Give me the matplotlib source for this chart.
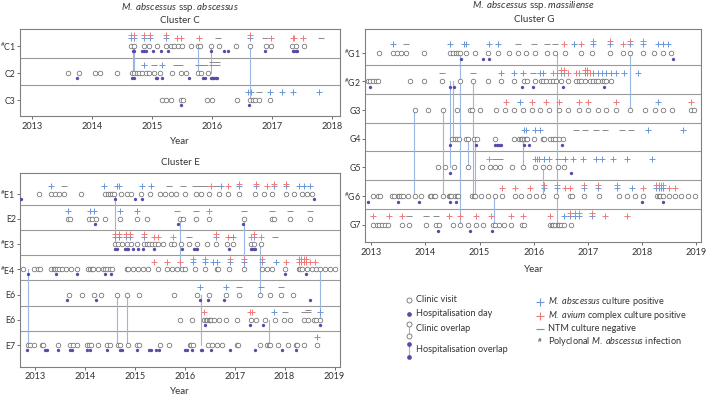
import matplotlib
matplotlib.use("Agg")
import matplotlib.pyplot as plt
from collections import Counter

plt.rcParams["font.family"] = ["Lato", "DejaVu Sans"]
plt.rcParams["mathtext.fontset"] = "custom"
plt.rcParams["mathtext.rm"] = "Lato"
plt.rcParams["mathtext.it"] = "Lato:italic"

PURPLE = "#5a4aa8"
BLUE = "#6b97d8"
RED = "#f07a7a"
GREY = "#707070"
NEG = "#8a8a8a"
LINK = "#9ab6e2"
EDGE = "#808080"

# ---- Cluster C (M. abscessus ssp. abscessus) ----
c_labels = [r"$^{\#}$C1", "C2", "C3"]
c_clinic = [
    [2014.65, 2014.71, 2014.87, 2014.95, 2015.08, 2015.23, 2015.31, 2015.37, 2015.44, 2015.50,
     2015.65, 2015.76, 2015.80, 2015.99, 2016.12, 2016.40, 2016.63, 2016.90, 2016.98, 2017.33,
     2017.39, 2017.53],
    [2013.61, 2013.79, 2014.05, 2014.13, 2014.42, 2014.67, 2014.70, 2014.76, 2014.79, 2014.84,
     2014.91, 2014.95, 2015.03, 2015.13, 2015.34, 2015.49, 2015.56, 2015.76, 2015.82, 2015.93],
    [2015.16, 2015.24, 2015.32, 2015.48, 2015.51, 2015.92, 2016.00, 2016.41, 2016.63, 2016.68,
     2016.71, 2016.79, 2016.97],
]
c_hosp = [
    [2014.68, 2014.71, 2014.84, 2014.87, 2014.90, 2015.01, 2015.15, 2015.26, 2015.99, 2016.20,
     2016.27, 2016.89, 2017.34, 2017.36, 2017.39, 2017.41],
    [2013.76, 2014.67, 2014.70, 2015.06, 2015.08, 2015.16, 2015.61, 2015.85, 2015.88, 2015.98,
     2016.00, 2016.02, 2016.04, 2016.07, 2016.09],
    [2015.49, 2016.62],
]
c_abs = [
    [2014.65, 2014.71, 2014.87, 2014.97, 2015.23, 2016.64],
    [2014.87, 2015.16],
    [2016.60, 2016.65, 2016.97, 2017.17, 2017.35, 2017.78],
]
c_mac = [
    [2014.65, 2014.71, 2014.87, 2014.97, 2015.23, 2015.41, 2015.49, 2015.79, 2016.64, 2016.98,
     2017.34, 2017.37, 2017.52],
    [],
    [],
]
c_neg = [
    [2016.10, 2016.89, 2017.81],
    [2015.04, 2015.40, 2015.46, 2015.77, 2015.83, 2015.88, 2016.00, 2016.00, 2016.08, 2016.08],
    [2016.79],
]
c_links = [(2014.68, 0, 1), (2014.71, 0, 1), (2015.77, 0, 1), (2015.99, 0, 1), (2016.63, 0, 2)]

# ---- Cluster E ----
e_labels = [r"$^{\#}$E1", "E2", r"$^{\#}$E3", r"$^{\#}$E4", "E6", "E6", "E7"]
e_clinic = [
    [2013.08, 2013.33, 2013.41, 2013.48, 2013.59, 2013.93, 2014.41, 2014.46, 2014.51, 2014.54,
     2014.58, 2014.72, 2014.84, 2014.92, 2015.13, 2015.30, 2015.51, 2015.61, 2015.72, 2015.83,
     2016.01, 2016.23, 2016.33, 2016.49, 2016.68, 2016.87, 2017.08, 2017.40, 2017.59, 2017.75,
     2018.02, 2018.18, 2018.34, 2018.45, 2018.55],
    [2013.67, 2013.70, 2014.08, 2014.14, 2014.22, 2014.40, 2014.70, 2015.05, 2015.24, 2015.91,
     2015.96, 2016.23, 2016.49, 2017.19, 2017.75, 2017.79, 2018.10, 2018.50],
    [2014.60, 2014.67, 2014.75, 2014.84, 2014.92, 2015.05, 2015.18, 2015.24, 2015.29, 2015.35,
     2015.41, 2015.47, 2015.56, 2015.72, 2015.79, 2015.93, 2016.08, 2016.24, 2016.44, 2016.63,
     2016.84, 2016.96, 2017.32, 2017.39, 2017.52],
    [2012.77, 2012.99, 2013.07, 2013.11, 2013.33, 2013.38, 2013.41, 2013.45, 2013.49, 2013.54,
     2013.63, 2013.73, 2013.84, 2014.06, 2014.10, 2014.14, 2014.17, 2014.27, 2014.37, 2014.40,
     2014.44, 2014.50, 2014.54, 2014.84, 2014.87, 2014.97, 2015.07, 2015.17, 2015.27, 2015.47,
     2015.64, 2015.74, 2015.84, 2015.94, 2016.01, 2016.21, 2016.41, 2016.64, 2016.67, 2016.88,
     2017.18, 2017.54, 2017.64, 2017.74, 2018.01, 2018.28, 2018.31, 2018.35, 2018.45, 2018.55,
     2018.63, 2018.71, 2018.81, 2018.91, 2019.01],
    [2013.68, 2013.95, 2014.19, 2014.32, 2014.64, 2014.85, 2015.09, 2015.79, 2016.24, 2016.49,
     2016.82, 2017.08, 2017.51, 2017.70, 2017.92, 2018.16],
    [2015.91, 2016.15, 2016.39, 2016.43, 2016.45, 2016.48, 2016.51, 2016.53, 2016.59, 2016.68,
     2016.82, 2017.04, 2017.32, 2017.42, 2017.61, 2017.81, 2017.99, 2018.10, 2018.39, 2018.47,
     2018.59, 2018.63, 2018.70],
    [2012.86, 2012.91, 2012.99, 2013.14, 2013.17, 2013.47, 2013.70, 2013.77, 2013.84, 2014.04,
     2014.08, 2014.12, 2014.26, 2014.45, 2014.50, 2014.67, 2014.70, 2014.86, 2015.04, 2015.09,
     2015.51, 2015.69, 2016.10, 2016.13, 2016.17, 2016.47, 2016.55, 2016.64, 2016.75, 2017.04,
     2017.06, 2017.51, 2017.64, 2017.68, 2017.71, 2017.86, 2018.06, 2018.22, 2018.24, 2018.39,
     2018.65],
]
e_hosp = [
    [2012.72, 2014.60, 2015.01, 2015.14, 2018.58],
    [2014.20, 2015.86, 2017.16],
    [2014.60, 2014.65, 2014.80, 2014.84, 2014.87, 2014.96, 2015.06, 2015.17, 2015.39, 2015.94,
     2016.19, 2016.22, 2016.25, 2016.88, 2017.32, 2017.35, 2017.38, 2017.40],
    [2012.87, 2013.43, 2013.85, 2014.40, 2014.53, 2018.00, 2018.43],
    [2013.65, 2014.22, 2016.31, 2016.47, 2016.78, 2018.51],
    [2016.41, 2017.30, 2017.56, 2018.70],
    [2012.85, 2013.21, 2013.25, 2013.47, 2013.70, 2013.74, 2014.05, 2014.10, 2014.45, 2014.70,
     2014.74, 2015.04, 2015.29, 2015.32, 2015.42, 2015.48, 2016.01, 2016.05, 2016.15, 2016.32,
     2016.35, 2016.53, 2016.91, 2017.40, 2017.94, 2018.23],
]
e_abs = [
    [2013.33, 2014.39, 2014.65, 2014.69, 2015.14, 2015.32, 2016.73, 2017.08, 2017.42, 2017.78,
     2018.03, 2018.29, 2018.39, 2018.50],
    [2013.67, 2014.10, 2014.18, 2014.70, 2015.05],
    [2014.60, 2014.68, 2014.82, 2014.90, 2015.18, 2016.63, 2016.96, 2017.39],
    [2016.16, 2016.40, 2016.57, 2016.65, 2016.91, 2017.19, 2017.54, 2017.83],
    [2016.31, 2016.82],
    [2017.79, 2018.70],
    [2018.65],
]
e_mac = [
    [2016.52, 2016.87, 2017.08, 2017.42, 2017.64, 2017.78, 2018.03],
    [2016.49],
    [2014.60, 2014.68, 2014.82, 2014.90, 2015.18, 2015.39, 2015.47, 2015.77, 2016.63, 2016.87,
     2017.32, 2017.39, 2017.52],
    [2015.39, 2015.64, 2015.91, 2016.16, 2016.40, 2016.91, 2017.19, 2017.54, 2018.02, 2018.28,
     2018.28, 2018.33, 2018.33, 2018.38, 2018.38, 2018.43, 2018.43, 2018.51, 2018.61],
    [],
    [2016.39, 2017.30, 2017.34],
    [],
]
e_neg = [
    [2013.59, 2015.69, 2015.97, 2016.21, 2016.31, 2016.41, 2016.63],
    [2015.84, 2016.23, 2017.19, 2017.75, 2018.10, 2018.50],
    [2016.08, 2016.91, 2017.81],
    [],
    [2017.08, 2017.52, 2017.92],
    [2018.01, 2018.39, 2018.46, 2018.46],
    [],
]
e_links = [(2014.60, 0, 2), (2015.91, 1, 3), (2017.18, 1, 3), (2017.51, 2, 4), (2018.70, 3, 5),
           (2012.86, 3, 6), (2014.64, 4, 6), (2014.85, 4, 6), (2016.32, 4, 6), (2017.68, 5, 6)]

# ---- Cluster G (M. abscessus ssp. massiliense) ----
g_labels = [r"$^{\#}$G1", r"$^{\#}$G2", "G3", "G4", "G5", r"$^{\#}$G6", "G7"]
g_clinic = [
    [2013.15, 2013.40, 2013.47, 2013.55, 2013.65, 2013.98, 2014.45, 2014.51, 2014.56, 2014.60,
     2014.64, 2014.75, 2014.91, 2015.16, 2015.34, 2015.54, 2015.71, 2015.86, 2016.02, 2016.25,
     2016.40, 2016.57, 2016.87, 2017.07, 2017.40, 2017.64, 2017.78, 2018.02, 2018.22, 2018.39,
     2018.54],
    [2012.94, 2012.98, 2013.03, 2013.08, 2013.13, 2013.72, 2013.97, 2014.30, 2014.63, 2014.88,
     2015.15, 2015.39, 2015.64, 2015.81, 2015.87, 2016.02, 2016.14, 2016.17, 2016.23, 2016.29,
     2016.35, 2016.41, 2016.51, 2016.63, 2016.77, 2016.83, 2016.88, 2016.94, 2017.03, 2017.09,
     2017.14, 2017.19, 2017.25, 2017.29, 2017.34, 2017.43],
    [2013.80, 2014.05, 2014.32, 2014.58, 2014.83, 2014.86, 2015.00, 2015.31, 2015.47, 2015.64,
     2015.80, 2015.96, 2016.12, 2016.28, 2016.47, 2016.63, 2016.83, 2017.00, 2017.18, 2017.34,
     2017.52, 2017.78, 2018.05, 2018.23, 2018.39, 2018.55, 2018.90, 2018.95],
    [2014.49, 2014.55, 2014.58, 2014.62, 2014.75, 2014.79, 2014.89, 2014.95, 2015.28, 2015.63,
     2015.72, 2015.77, 2015.79, 2015.81, 2015.85, 2015.88, 2016.01, 2016.17, 2016.19, 2016.29,
     2016.35, 2016.40, 2016.47, 2016.54],
    [2014.24, 2014.37, 2014.52, 2014.78, 2015.04, 2015.20, 2015.29, 2015.38, 2015.60, 2015.80,
     2016.03, 2016.17, 2016.28, 2016.44, 2016.56],
    [2013.04, 2013.13, 2013.17, 2013.39, 2013.42, 2013.50, 2013.52, 2013.55, 2013.58, 2013.67,
     2013.80, 2013.92, 2014.09, 2014.11, 2014.15, 2014.17, 2014.33, 2014.43, 2014.46, 2014.48,
     2014.54, 2014.58, 2014.61, 2014.86, 2014.89, 2014.91, 2015.03, 2015.15, 2015.28, 2015.41,
     2015.66, 2015.77, 2015.91, 2016.04, 2016.17, 2016.41, 2016.66, 2016.70, 2016.93, 2017.20,
     2017.58, 2017.72, 2017.86, 2018.02, 2018.27, 2018.31, 2018.33, 2018.39, 2018.49, 2018.60,
     2018.72, 2018.84, 2018.97],
    [2013.03, 2013.10, 2013.15, 2013.20, 2013.25, 2013.30, 2013.57, 2013.69, 2014.01, 2014.19,
     2014.25, 2014.51, 2014.64, 2014.79, 2014.94, 2015.06, 2015.24, 2015.29, 2015.36, 2015.45,
     2015.58, 2015.79, 2015.82, 2016.29, 2016.33, 2016.36, 2016.40, 2016.44, 2016.47, 2016.51,
     2016.56, 2016.68],
]
g_hosp = [
    [2014.66, 2015.06, 2015.18, 2018.57],
    [2012.98, 2014.46, 2014.52, 2015.79, 2015.99, 2016.54, 2017.29],
    [],
    [2014.46, 2014.94, 2015.29, 2015.32, 2015.34, 2015.37, 2015.39, 2015.81, 2015.92, 2016.52],
    [2014.46, 2016.68],
    [2012.94, 2013.50, 2013.89, 2014.45, 2014.57, 2017.99, 2018.39],
    [2014.24, 2014.82, 2015.23],
]
g_abs = [
    [2013.40, 2014.45, 2014.72, 2014.75, 2015.18, 2015.34, 2016.75, 2017.09, 2017.41, 2017.78,
     2018.02, 2018.29, 2018.38, 2018.48],
    [2015.39, 2015.64, 2015.80, 2016.12, 2016.17, 2016.51, 2016.55, 2016.94, 2016.99, 2017.10,
     2017.18, 2017.26, 2017.34, 2017.42, 2017.52, 2017.67, 2017.93],
    [2015.75, 2018.29],
    [2015.81, 2015.85, 2016.03, 2016.12, 2018.10, 2018.75],
    [2016.03, 2016.06, 2016.09, 2016.18, 2016.28, 2016.58, 2016.73, 2016.91, 2017.15, 2017.26,
     2017.46, 2017.72, 2018.18],
    [2016.18, 2016.43, 2016.93, 2017.18, 2017.53, 2017.82, 2018.26, 2018.31, 2018.35, 2018.39],
    [2016.55, 2016.67, 2016.76, 2016.84, 2017.07],
]
g_mac = [
    [2016.55, 2016.88, 2017.09, 2017.41, 2017.64, 2017.78, 2018.02],
    [2016.36, 2016.43, 2016.51, 2016.55, 2016.63, 2016.77, 2016.84, 2016.94, 2016.99, 2017.03],
    [2015.48, 2015.96, 2016.22, 2016.47, 2016.84, 2017.00, 2017.52, 2018.90],
    [],
    [2015.18],
    [2015.42, 2015.66, 2015.93, 2016.18, 2016.43, 2016.57, 2016.67, 2016.93, 2017.18, 2017.53,
     2018.02, 2018.26, 2018.31, 2018.35, 2018.39, 2018.50, 2018.60],
    [2013.03, 2013.33, 2013.57, 2014.43, 2014.64, 2014.94, 2015.21, 2015.58, 2015.80, 2016.29,
     2016.67, 2016.76, 2016.84, 2017.07, 2017.32, 2017.72],
]
g_neg = [
    [2013.65, 2015.71, 2016.00, 2016.25, 2016.40],
    [2014.30, 2014.88, 2015.99],
    [],
    [2016.77, 2016.94, 2017.15, 2017.32, 2017.62, 2017.79],
    [2015.29, 2015.37, 2016.44, 2016.56],
    [],
    [2013.69, 2014.01, 2014.19],
]
g_links = [(2013.79, 2, 5), (2014.33, 2, 5), (2014.45, 1, 4), (2014.50, 1, 3), (2014.63, 0, 6),
           (2014.88, 1, 5), (2014.92, 3, 5), (2014.78, 3, 4), (2015.27, 5, 6), (2015.80, 3, 4),
           (2016.17, 4, 5), (2016.42, 0, 6), (2017.78, 0, 2)]


def draw_cluster(ax, labels, clinic, hosp, abs_pos, mac_pos, neg, links, xlim, ylim, years):
    n = len(labels)
    for d, a, b in links:
        ax.plot([d, d], [a, b], color=LINK, lw=0.8, zorder=1)
    for i in range(n - 1):
        ax.axhline(i + 0.44, color="#9a9a9a", lw=0.8, zorder=0)
    for i in range(n):
        ax.plot(clinic[i], [i] * len(clinic[i]), "o", mfc="white", mec=GREY,
                ms=3.3, mew=0.55, zorder=3)
        ax.plot(hosp[i], [i + 0.2] * len(hosp[i]), "o", color=PURPLE, ms=2.4, mew=0, zorder=3)
        # culture results sit above the visit, stacked when on the same date
        seen = Counter()
        for dates, mk, col in ((abs_pos[i], "+", BLUE), (mac_pos[i], "+", RED), (neg[i], "_", NEG)):
            ys = []
            for d in dates:
                k = seen[round(d, 2)]
                seen[round(d, 2)] += 1
                ys.append(i - 0.3 - 0.1 * k)
            ax.plot(dates, ys, mk, color=col, ms=4.2, mew=0.7, zorder=2)
    ax.set_xlim(*xlim)
    ax.set_ylim(*ylim)
    ax.set_yticks(range(n))
    ax.set_yticklabels(labels)
    ax.set_xticks(years)
    ax.set_xticklabels([str(y) for y in years])
    ax.tick_params(labelsize=6.6, length=2.5, width=0.6, color="#555555", pad=1.5,
                   labelcolor="#333333")
    ax.tick_params(axis="y", labelsize=6.3, length=2, pad=1)
    for s in ax.spines.values():
        s.set_color(EDGE)
        s.set_linewidth(0.8)


fig = plt.figure(figsize=(7.06, 3.98), dpi=100)

ax_c = fig.add_axes([20 / 706, 1 - 116 / 398, 320 / 706, 87 / 398])
draw_cluster(ax_c, c_labels, c_clinic, c_hosp, c_abs, c_mac, c_neg, c_links,
             (2012.805, 2018.13), (2.59, -0.63), range(2013, 2019))

ax_e = fig.add_axes([20 / 706, 1 - 366.7 / 398, 320 / 706, 194 / 398])
draw_cluster(ax_e, e_labels, e_clinic, e_hosp, e_abs, e_mac, e_neg, e_links,
             (2012.70, 2019.11), (6.86, -0.83), range(2013, 2020))

ax_g = fig.add_axes([365.3 / 706, 1 - 242.3 / 398, 335.4 / 706, 213 / 398])
draw_cluster(ax_g, g_labels, g_clinic, g_hosp, g_abs, g_mac, g_neg, g_links,
             (2012.89, 2019.08), (6.61, -0.82), range(2013, 2020))

# overlay in pixel coordinates for titles and the legend
ov = fig.add_axes([0, 0, 1, 1], facecolor="none")
ov.set_xlim(0, 706)
ov.set_ylim(398, 0)
ov.axis("off")

tkw = dict(ha="center", va="center", fontsize=7, color="#333333")
ov.text(180, 7, r"$\it{M.\ abscessus}$ ssp. $\it{abscessus}$", **tkw)
ov.text(180, 20.5, "Cluster C", **tkw)
ov.text(180, 142, "Year", **tkw)
ov.text(180, 162.7, "Cluster E", **tkw)
ov.text(180, 391, "Year", **tkw)
ov.text(534, 6, r"$\it{M.\ abscessus}$ ssp. $\it{massiliense}$", **tkw)
ov.text(534, 19.5, "Cluster G", **tkw)
ov.text(534, 269, "Year", **tkw)

lkw = dict(ha="left", va="center", fontsize=6.6, color="#333333")
ov.plot([409], [300], "o", mfc="white", mec=GREY, ms=3.6, mew=0.6)
ov.text(416, 300, "Clinic visit", **lkw)
ov.plot([409], [313.5], "o", color=PURPLE, ms=3.4, mew=0)
ov.text(416, 313.5, "Hospitalisation day", **lkw)
ov.plot([409, 409], [323.5, 335.5], color=LINK, lw=0.8, zorder=1)
ov.plot([409, 409], [323.5, 335.5], "o", mfc="white", mec=GREY, ms=3.6, mew=0.6, zorder=2)
ov.text(416, 328.5, "Clinic overlap", **lkw)
ov.plot([409, 409], [344, 357], color=LINK, lw=0.8, zorder=1)
ov.plot([409, 409], [344, 357], "o", color=PURPLE, ms=3.4, mew=0, zorder=2)
ov.text(416, 350, "Hospitalisation overlap", **lkw)

ov.plot([539.5], [302], "+", color=BLUE, ms=5.5, mew=0.8)
ov.text(548, 301.5, r"$\it{M.\ abscessus}$ culture positive", **lkw)
ov.plot([539.5], [315.5], "+", color=RED, ms=5.5, mew=0.8)
ov.text(548, 315, r"$\it{M.\ avium}$ complex culture positive", **lkw)
ov.plot([539.5], [329], "_", color=NEG, ms=5.5, mew=0.8)
ov.text(548, 328.5, "NTM culture negative", **lkw)
ov.text(539.5, 340.5, "#", ha="center", va="center", fontsize=4.5, color="#333333")
ov.text(548, 342, r"Polyclonal $\it{M.\ abscessus}$ infection", **lkw)

fig.savefig("out.png", dpi=100)
